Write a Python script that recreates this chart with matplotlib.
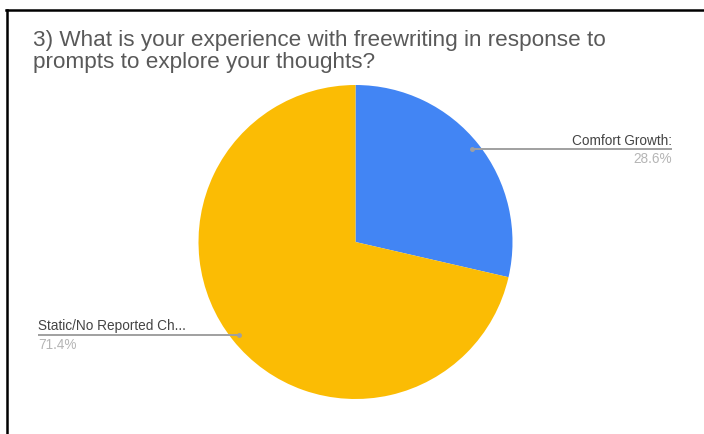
import matplotlib
matplotlib.use("Agg")
import matplotlib.pyplot as plt
import numpy as np
from matplotlib.lines import Line2D

plt.rcParams['font.family'] = ['Liberation Sans', 'DejaVu Sans']

title = "3) What is your experience with freewriting in response to\nprompts to explore your thoughts?"
labels = ["Comfort Growth:", "Static/No Reported Ch..."]
shares = [28.6, 71.4]
colors = ["#4285F4", "#FBBC04"]

W, H = 704, 435
fig = plt.figure(figsize=(W / 100, H / 100), dpi=100)
ax = fig.add_axes([0, 0, 1, 1])

# pie placement in pixel units (y measured from bottom)
cx, cy, R = 355.5, H - 243, 157
wedges, _ = ax.pie(shares, colors=colors, startangle=90, counterclock=False,
                   center=(cx, cy), radius=R, frame=True,
                   wedgeprops=dict(linewidth=0))
ax.set_xlim(0, W)
ax.set_ylim(0, H)
ax.set_aspect('equal')
ax.axis('off')

# leader lines + labels
label_x = {0: (672, 'right'), 1: (38, 'left')}
for i, w in enumerate(wedges):
    mid = np.deg2rad((w.theta1 + w.theta2) / 2)
    ax_x = cx + 0.95 * R * np.cos(mid)
    ax_y = cy + 0.95 * R * np.sin(mid)
    end_x, ha = label_x[i]
    ax.plot([ax_x, end_x], [ax_y, ax_y], color="#a0a0a0", lw=1.4,
            solid_capstyle='butt')
    ax.plot([ax_x], [ax_y], 'o', color="#a0a0a0", ms=2.5)
    ax.text(end_x, ax_y + 2.5, labels[i], ha=ha, va='bottom',
            fontsize=9.8, color="#444444")
    ax.text(end_x, ax_y - 2, f"{shares[i]:.1f}%", ha=ha, va='top',
            fontsize=9.8, color="#b5b5b5")

ax.text(33, H - 30, title, ha='left', va='top', fontsize=16.2,
        color="#595959", linespacing=1.08)

# black frame on top and left edges
fig.add_artist(Line2D([6 / W, 1], [1 - 11 / H, 1 - 11 / H],
                      transform=fig.transFigure, color="black", lw=1.8))
fig.add_artist(Line2D([7 / W, 7 / W], [0, 1 - 11 / H],
                      transform=fig.transFigure, color="black", lw=1.8))

fig.savefig("out.png", dpi=100, facecolor="white")
